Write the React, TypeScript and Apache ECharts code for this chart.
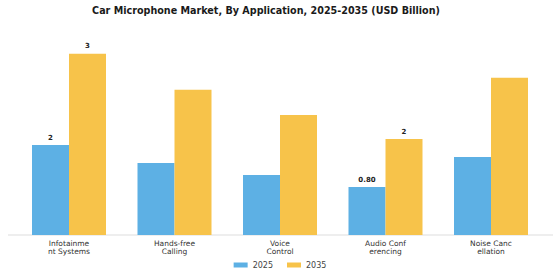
import React, { useEffect, useRef } from "react";
import * as echarts from "echarts";

const categories = ["Infotainme\nnt Systems", "Hands-free\nCalling", "Voice\nControl", "Audio Conf\nerencing", "Noise Canc\nellation"];
const values2025 = [1.5, 1.2, 1.0, 0.8, 1.3];
const values2035 = [3.02, 2.42, 2.0, 1.6, 2.62];
const labels2025 = ["2", "", "", "0.80", ""];
const labels2035 = ["3", "", "", "2", ""];
const seriesNames = ["2025", "2035"];

export default function App() {
  const ref = useRef<HTMLDivElement>(null);
  useEffect(() => {
    if (!ref.current) return;
    const chart = echarts.init(ref.current, null, { renderer: "svg" });
    const mk = (vals: number[], labs: string[]) =>
      vals.map((v, i) => ({
        value: v,
        label: {
          show: labs[i] !== "",
          formatter: () => labs[i],
        },
      }));
    chart.setOption({
      animation: false,
      title: {
        text: "Car Microphone Market, By Application, 2025-2035 (USD Billion)",
        left: 261,
        textAlign: "center",
        top: 0,
        textStyle: { fontFamily: "DejaVu Sans", fontWeight: "bold", fontSize: 9.6, color: "#1a1a1a" },
      },
      legend: {
        data: seriesNames,
        bottom: 6,
        left: "center",
        itemWidth: 14,
        itemHeight: 5,
        itemGap: 14,
        icon: "rect",
        textStyle: { fontFamily: "DejaVu Sans", fontSize: 8, color: "#444" },
      },
      grid: { left: 16.25, right: 16.25, top: 25, bottom: 45 },
      xAxis: {
        type: "category",
        data: categories,
        axisLine: { show: false },
        axisTick: { show: false },
        axisLabel: { fontFamily: "DejaVu Sans", fontSize: 7.5, color: "#333", lineHeight: 8, margin: 4, interval: 0 },
      },
      yAxis: {
        type: "value",
        min: 0,
        max: 3.5,
        show: false,
        splitLine: { show: false },
      },
      graphic: [
        { type: "line", shape: { x1: 8, y1: 235, x2: 553, y2: 235 }, style: { stroke: "#ddd", lineWidth: 1 } },
      ],
      series: [
        {
          name: seriesNames[0],
          type: "bar",
          data: mk(values2025, labels2025),
          barWidth: 37,
          barGap: "0%",
          itemStyle: { color: "#5DB0E4" },
          label: { position: "top", fontFamily: "DejaVu Sans", fontWeight: "bold", fontSize: 7, color: "#222", distance: 4 },
        },
        {
          name: seriesNames[1],
          type: "bar",
          data: mk(values2035, labels2035),
          barWidth: 37,
          barGap: "0%",
          itemStyle: { color: "#F7C34A" },
          label: { position: "top", fontFamily: "DejaVu Sans", fontWeight: "bold", fontSize: 7, color: "#222", distance: 4 },
        },
      ],
    });
    return () => chart.dispose();
  }, []);
  return <div ref={ref} style={{ width: 560, height: 280, position: "absolute", left: 0, top: 0 }} />;
}
